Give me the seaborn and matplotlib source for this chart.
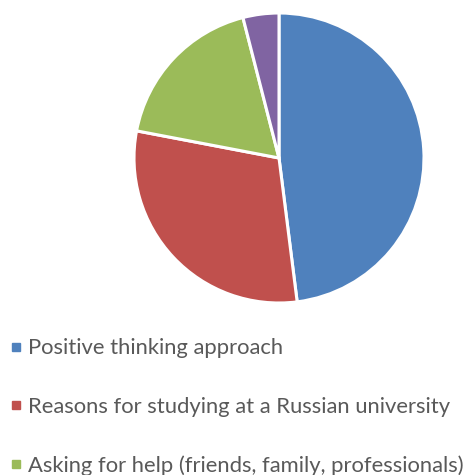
import matplotlib
matplotlib.use("Agg")
import matplotlib.pyplot as plt
from matplotlib.lines import Line2D
import seaborn as sns

categories = [
    "Positive thinking approach",
    "Reasons for studying at a Russian university",
    "Asking for help (friends, family, professionals)",
    "Other",
]
shares = [48, 30, 18, 4]
colors = ["#4F81BD", "#C0504D", "#9BBB59", "#8064A2"]

sns.set_theme(style="white")
plt.rcParams["font.family"] = ["Lato", "DejaVu Sans"]
palette = sns.color_palette(colors)

fig = plt.figure(figsize=(4.73, 4.75), dpi=100)
W, H = 473, 475
cx, cy, r = 279, 158, 145
ax = fig.add_axes([(cx - r) / W, (H - cy - r) / H, 2 * r / W, 2 * r / H])
ax.pie(shares, colors=palette, startangle=90, counterclock=False,
       wedgeprops=dict(edgecolor="white", linewidth=2.2), radius=1)
ax.set_xlim(-1, 1)
ax.set_ylim(-1, 1)
ax.set_aspect("equal")
ax.axis("off")

handles = [Line2D([], [], marker="s", linestyle="", markersize=5.8,
                  color=palette[i]) for i in range(3)]
fig.legend(handles, categories[:3], loc="upper left",
           bbox_to_anchor=(8.0 / W, 1 - 338.5 / H), frameon=False,
           fontsize=15.8, labelcolor="#595959", handlelength=0.76,
           handletextpad=0.17, labelspacing=1.75, borderpad=0,
           borderaxespad=0)

fig.savefig("out.png", dpi=100)
